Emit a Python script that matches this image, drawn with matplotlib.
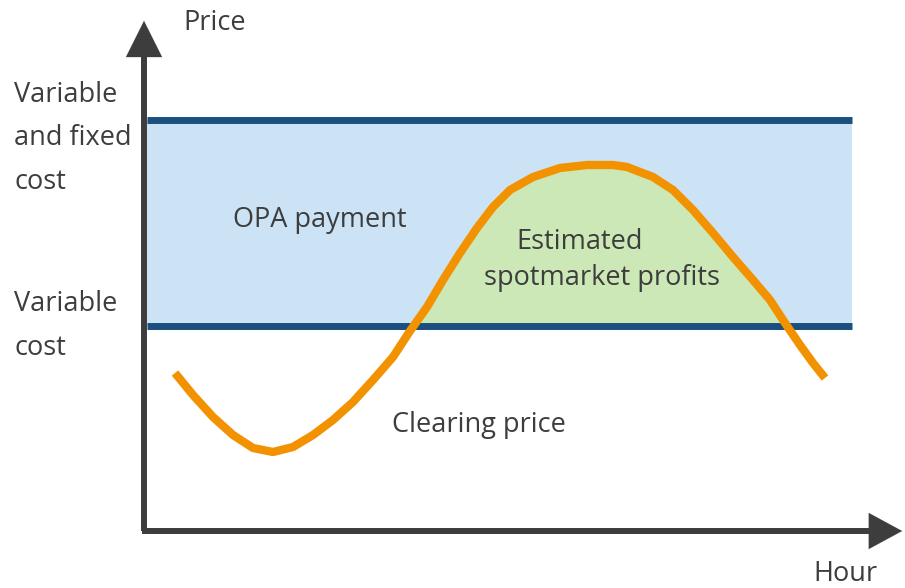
import matplotlib
matplotlib.use("Agg")
import matplotlib.pyplot as plt

# clearing price over the hours (origin at the axis corner, y up)
hour = [31, 49, 69, 89, 109, 129, 149, 169, 189, 209, 229, 249, 266, 283,
        299, 316, 333, 349, 366, 389, 416, 443, 469, 483, 509, 529, 549,
        569, 589, 609, 626, 641, 656, 669, 681]
price = [158, 136, 114, 96, 83, 79, 84, 96, 111, 129, 151, 174, 200, 224,
         251, 278, 303, 324, 341, 354, 363, 366, 366, 364, 354, 341, 321,
         298, 274, 251, 231, 208, 186, 168, 153]

variable_cost = 205
fixed_cost = 411
band_start, band_end = 3, 708

ink = "#3d3d3d"
plt.rcParams['font.family'] = ['Open Sans', 'DejaVu Sans']

fig = plt.figure(figsize=(9.05, 5.88), dpi=100)
ax = fig.add_axes([0, 0, 1, 1])
ax.set_xlim(-144, 761)
ax.set_ylim(-57, 531)
ax.axis('off')

# cost band
ax.fill_between([band_start, band_end], variable_cost, fixed_cost,
                color="#cce3f5", lw=0, zorder=1)
ax.plot([band_start, band_end], [fixed_cost, fixed_cost], color="#1b4f7f", lw=5, zorder=3,
        solid_capstyle='butt')
ax.plot([band_start, band_end], [variable_cost, variable_cost], color="#1b4f7f", lw=5, zorder=3,
        solid_capstyle='butt')

# profits above variable cost
ax.fill_between(hour, variable_cost, price, where=[p >= variable_cost for p in price],
                interpolate=True, color="#cce8b6", lw=0, zorder=2)

ax.plot(hour, price, color="#f39200", lw=6, zorder=4, solid_capstyle='butt',
        solid_joinstyle='round')

# axes with arrows
ax.plot([0, 0], [0, 480], color=ink, lw=4.3, zorder=5, solid_capstyle='butt')
ax.plot([-2, 735], [0, 0], color=ink, lw=4.3, zorder=5, solid_capstyle='butt')
ax.annotate("", xy=(0, 513), xytext=(0, 470),
            arrowprops=dict(arrowstyle="-|>,head_length=2.6,head_width=1.3", color=ink, lw=0.1))
ax.annotate("", xy=(761, 0), xytext=(720, 0),
            arrowprops=dict(arrowstyle="-|>,head_length=2.4,head_width=1.3", color=ink, lw=0.1))

fs = 19.5
ax.text(39, 508, "Price", fontsize=fs, color=ink, va='center')
ax.text(701, -43, "Hour", fontsize=fs, color=ink, va='center', ha='center')
ax.text(-130, 436, "Variable", fontsize=fs, color=ink, va='center')
ax.text(-130, 393, "and fixed", fontsize=fs, color=ink, va='center')
ax.text(-130, 349, "cost", fontsize=fs, color=ink, va='center')
ax.text(-130, 227, "Variable", fontsize=fs, color=ink, va='center')
ax.text(-130, 183, "cost", fontsize=fs, color=ink, va='center')
ax.text(89, 311, "OPA payment", fontsize=fs, color=ink, va='center', zorder=6)
ax.text(436, 289, "Estimated", fontsize=fs, color=ink, va='center', ha='center', zorder=6)
ax.text(458, 253, "spotmarket profits", fontsize=fs, color=ink, va='center', ha='center', zorder=6)
ax.text(248, 106, "Clearing price", fontsize=fs, color=ink, va='center', zorder=6)

fig.savefig("out.png", dpi=100)
